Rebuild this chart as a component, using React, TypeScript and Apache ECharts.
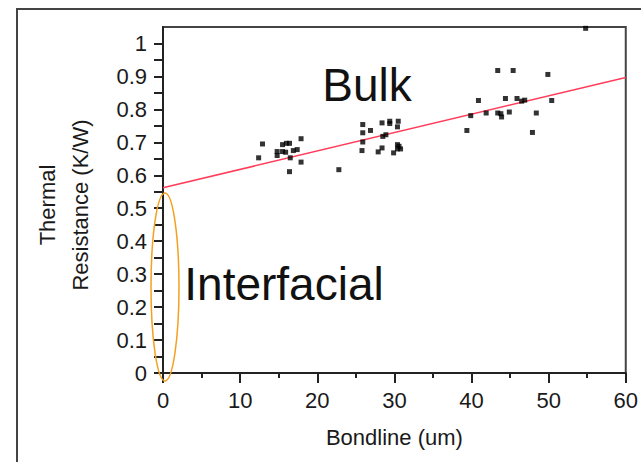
import React, { useEffect, useRef } from "react";
import * as echarts from "echarts";

const bondline = [
  12.9, 12.4, 15.5, 16.0, 16.4, 14.8, 14.8, 15.5, 15.9, 16.9, 17.4, 17.9, 16.5, 17.9, 16.4,
  22.8,
  25.9, 25.9, 26.9, 25.9, 25.8, 28.4, 29.4, 29.4, 30.5, 30.4, 28.9, 28.5, 28.4, 27.9, 29.9, 30.4, 30.6, 30.8, 30.4,
  43.4, 45.4, 40.9, 39.4, 39.9, 41.9, 43.4, 43.8, 43.9, 44.4, 44.9, 45.9, 46.5, 46.9, 49.9, 50.4, 48.4, 47.9,
  54.8,
];
const resistance = [
  0.695, 0.653, 0.693, 0.697, 0.697, 0.672, 0.66, 0.672, 0.67, 0.675, 0.678, 0.711, 0.653, 0.64, 0.611,
  0.617,
  0.754, 0.729, 0.736, 0.701, 0.675, 0.759, 0.764, 0.757, 0.764, 0.747, 0.723, 0.718, 0.683, 0.671, 0.668, 0.693, 0.688, 0.68, 0.68,
  0.918, 0.918, 0.827, 0.736, 0.781, 0.789, 0.789, 0.787, 0.777, 0.833, 0.792, 0.833, 0.825, 0.828, 0.906, 0.827, 0.789, 0.73,
  1.046,
];
const fitX = [0, 60];
const fitY = [0.562, 0.897];

const xTitle = "Bondline (um)";
const yTitle = "Thermal\nResistance (K/W)";
const bulkLabel = "Bulk";
const interfacialLabel = "Interfacial";

const FONT = "'Liberation Sans', Arial, sans-serif";

export default function App() {
  const ref = useRef<HTMLDivElement>(null);
  useEffect(() => {
    if (!ref.current) return;
    const chart = echarts.init(ref.current, null, { renderer: "svg" });
    const points = bondline.map((x, i) => [x, resistance[i]]);
    const fit = fitX.map((x, i) => [x, fitY[i]]);
    chart.setOption({
      animation: false,
      backgroundColor: "#ffffff",
      grid: {
        left: 163,
        top: 27,
        right: 13,
        bottom: 89,
        show: true,
        borderColor: "#444",
        borderWidth: 2,
      },
      xAxis: {
        type: "value",
        min: 0,
        max: 60,
        interval: 10,
        name: xTitle,
        nameLocation: "middle",
        nameGap: 53,
        nameTextStyle: { fontFamily: FONT, fontSize: 22, color: "#1a1a1a" },
        axisLine: { show: true, onZero: false, lineStyle: { color: "#222", width: 2 } },
        axisTick: { show: true, length: 10, lineStyle: { color: "#222", width: 2 } },
        minorTick: { show: true, splitNumber: 2, length: 5, lineStyle: { color: "#222", width: 2 } },
        axisLabel: { margin: 16, fontFamily: FONT, fontSize: 22, color: "#1a1a1a" },
        splitLine: { show: false },
      },
      yAxis: {
        type: "value",
        min: 0,
        max: 1.05,
        interval: 0.05,
        axisLine: { show: true, onZero: false, lineStyle: { color: "#222", width: 2 } },
        axisTick: { show: true, length: 9, lineStyle: { color: "#222", width: 2 } },
        axisLabel: {
          margin: 16,
          fontFamily: FONT,
          fontSize: 22,
          color: "#1a1a1a",
          showMaxLabel: false,
          formatter: (v: number) => {
            const k = Math.round(v * 20);
            if (k % 2 !== 0) return "";
            return String(Math.round(v * 10) / 10);
          },
        },
        splitLine: { show: false },
      },
      graphic: [
        {
          type: "rect",
          z: 100,
          silent: true,
          shape: { x: 17, y: 9, width: 700, height: 500 },
          style: { fill: "none", stroke: "#444", lineWidth: 2 },
        },
        {
          type: "text",
          z: 100,
          x: 64,
          y: 205,
          rotation: Math.PI / 2,
          style: {
            text: yTitle,
            font: `22px ${FONT}`,
            fill: "#1a1a1a",
            align: "center",
            verticalAlign: "middle",
            lineHeight: 33,
          },
        },
        {
          type: "text",
          z: 100,
          x: 367,
          y: 85,
          style: {
            text: bulkLabel,
            font: `46px ${FONT}`,
            fill: "#111",
            align: "center",
            verticalAlign: "middle",
          },
        },
        {
          type: "text",
          z: 100,
          x: 284,
          y: 284,
          style: {
            text: interfacialLabel,
            font: `46px ${FONT}`,
            fill: "#111",
            align: "center",
            verticalAlign: "middle",
          },
        },
        {
          type: "ellipse",
          z: 100,
          shape: { cx: 165, cy: 287, rx: 14, ry: 94 },
          style: { fill: "none", stroke: "#f5a020", lineWidth: 1.5 },
        },
      ],
      series: [
        {
          type: "line",
          data: fit,
          symbol: "none",
          lineStyle: { color: "#ff3d5a", width: 1.5 },
          z: 3,
        },
        {
          type: "scatter",
          data: points,
          symbol: "rect",
          symbolSize: 5,
          itemStyle: { color: "#000" },
          z: 4,
        },
      ],
    });
    return () => chart.dispose();
  }, []);
  return (
    <div
      ref={ref}
      style={{ position: "fixed", left: 0, top: 0, width: 641, height: 462, background: "#fff" }}
    />
  );
}
